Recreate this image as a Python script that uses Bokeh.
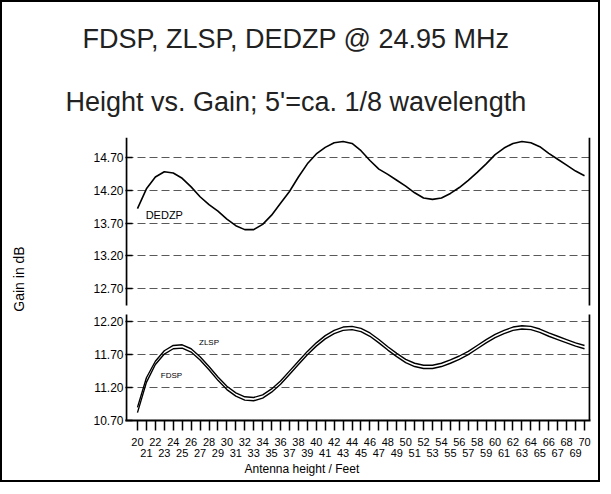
from bokeh.plotting import figure
from bokeh.models import FixedTicker, PrintfTickFormatter, LinearAxis, Title, Label, Range1d
from bokeh.layouts import column
from bokeh.embed import file_html
from bokeh.resources import INLINE

# ---------------- data ----------------
height_ft = list(range(20, 71))

dedzp = [13.92, 14.22, 14.40, 14.48, 14.46, 14.38, 14.25, 14.10, 13.98, 13.88,
         13.76, 13.66, 13.60, 13.60, 13.68, 13.82, 14.00, 14.18, 14.40, 14.60,
         14.75, 14.85, 14.92, 14.94, 14.91, 14.80, 14.65, 14.52, 14.44, 14.35,
         14.26, 14.16, 14.08, 14.06, 14.08, 14.15, 14.24, 14.35, 14.47, 14.60,
         14.74, 14.84, 14.91, 14.94, 14.92, 14.86, 14.76, 14.67, 14.58, 14.49,
         14.42]

zlsp = [10.90, 11.35, 11.60, 11.76, 11.84, 11.85, 11.79, 11.67, 11.52, 11.36,
        11.22, 11.12, 11.06, 11.05, 11.09, 11.18, 11.30, 11.45, 11.60, 11.75,
        11.88, 11.99, 12.07, 12.12, 12.13, 12.10, 12.03, 11.93, 11.82, 11.72,
        11.63, 11.57, 11.54, 11.54, 11.57, 11.62, 11.68, 11.75, 11.84, 11.93,
        12.01, 12.07, 12.12, 12.14, 12.13, 12.09, 12.03, 11.98, 11.93, 11.88,
        11.84]

fdsp = [10.82, 11.28, 11.55, 11.71, 11.79, 11.80, 11.74, 11.62, 11.47, 11.31,
        11.17, 11.07, 11.01, 11.00, 11.04, 11.13, 11.25, 11.40, 11.55, 11.70,
        11.83, 11.94, 12.02, 12.07, 12.08, 12.05, 11.98, 11.88, 11.77, 11.67,
        11.58, 11.52, 11.49, 11.49, 11.52, 11.57, 11.63, 11.70, 11.79, 11.88,
        11.96, 12.02, 12.07, 12.09, 12.08, 12.04, 11.98, 11.93, 11.88, 11.83,
        11.79]

y_ticks = [10.70, 11.20, 11.70, 12.20, 12.70, 13.20, 13.70, 14.20, 14.70]
x_ticks = list(range(20, 71))
x_ticks_odd = [t for t in x_ticks if t % 2 == 1]

# broken-axis panels (value ranges)
lower_panel = (10.70, 12.31)
upper_panel = (12.448, 15.0)
x_span = (18.66, 70.67)

title_text = "FDSP, ZLSP, DEDZP @ 24.95 MHz"
subtitle_text = "Height vs. Gain;  5'=ca. 1/8 wavelength"
y_label_text = "Gain in dB"
x_label_text = "Antenna height / Feet"

FONT = "Liberation Sans"

p = figure(width=596, height=478,
           x_range=Range1d(*x_span), y_range=Range1d(lower_panel[0], upper_panel[1]),
           output_backend="svg", toolbar_location=None, title=None,
           min_border_left=123, min_border_right=8, min_border_top=135, min_border_bottom=60)
p.outline_line_color = None
p.xgrid.visible = False

# ---- y axis ----
ya = p.yaxis[0]
ya.ticker = FixedTicker(ticks=y_ticks)
ya.formatter = PrintfTickFormatter(format="%.2f")
ya.axis_line_color = None
ya.major_tick_in = 7
ya.major_tick_out = 0
ya.major_tick_line_width = 1.5
ya.minor_tick_line_color = None
ya.major_label_standoff = 2
ya.major_label_text_font = FONT
ya.major_label_text_font_size = "12px"
ya.major_label_text_color = "black"
ya.axis_label = y_label_text
ya.axis_label_standoff = 63
ya.axis_label_text_font = FONT
ya.axis_label_text_font_size = "14px"
ya.axis_label_text_font_style = "normal"
ya.axis_label_text_color = "black"

p.ygrid.ticker = FixedTicker(ticks=y_ticks)
p.ygrid.grid_line_color = "black"
p.ygrid.grid_line_alpha = 0.65
p.ygrid.grid_line_dash = "8 4"

# ---- x axes (even labels first row, odd labels second row) ----
xa = p.xaxis[0]
xa.ticker = FixedTicker(ticks=x_ticks)
xa.major_label_overrides = {t: "" for t in x_ticks_odd}
xa.major_tick_in = 0
xa.major_tick_out = 10
xa.major_tick_line_width = 1.5
xa.minor_tick_line_color = None
xa.major_label_standoff = 7
xa.major_label_text_font = FONT
xa.major_label_text_font_size = "11px"
xa.major_label_text_color = "black"
xa.axis_line_width = 2

xb = LinearAxis(ticker=FixedTicker(ticks=x_ticks_odd), axis_line_color=None,
                major_tick_line_color=None, minor_tick_line_color=None,
                major_tick_in=0, major_tick_out=0, major_label_standoff=0,
                major_label_text_font=FONT, major_label_text_font_size="11px",
                major_label_text_color="black")
p.add_layout(xb, "below")
p.add_layout(Title(text=x_label_text, align="left", offset=119, standoff=1,
                   text_font=FONT, text_font_size="12px", text_font_style="normal",
                   text_color="black"), "below")

# ---- titles ----
p.add_layout(Title(text=subtitle_text, align="left", offset=-60, standoff=41,
                   text_font=FONT, text_font_size="27px", text_font_style="normal",
                   text_color="#222222"), "above")
p.add_layout(Title(text=title_text, align="left", offset=-43, standoff=21,
                   text_font=FONT, text_font_size="27px", text_font_style="normal",
                   text_color="#222222"), "above")

# ---- panel borders of the broken axis ----
edge = 0.1
for lo_v, hi_v in (lower_panel, upper_panel):
    p.segment(x0=[x_span[0] + edge, x_span[1] - edge], y0=[lo_v, lo_v],
              x1=[x_span[0] + edge, x_span[1] - edge], y1=[hi_v, hi_v],
              line_color="black", line_width=2)

# ---- curves ----
p.line(height_ft, dedzp, line_color="black", line_width=1.6)
p.line(height_ft, zlsp, line_color="black", line_width=1.4)
p.line(height_ft, fdsp, line_color="black", line_width=1.4)

p.add_layout(Label(x=23.0, y=13.83, text="DEDZP", text_font=FONT, text_font_size="11px",
                   text_align="center", text_baseline="middle", text_color="black"))
p.add_layout(Label(x=28.0, y=11.89, text="ZLSP", text_font=FONT, text_font_size="8px",
                   text_align="center", text_baseline="middle", text_color="black"))
p.add_layout(Label(x=23.8, y=11.38, text="FDSP", text_font=FONT, text_font_size="8px",
                   text_align="center", text_baseline="middle", text_color="black"))

layout = column(p, styles={"border": "2px solid black"})

open("out.html", "w").write(file_html(layout, INLINE))
